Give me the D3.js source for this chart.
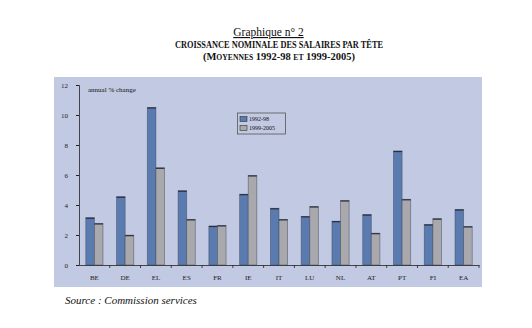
<!DOCTYPE html>
<html><head><meta charset="utf-8">
<script src="https://cdn.jsdelivr.net/npm/d3@7"></script>
<style>body{margin:0;background:#fff}svg{display:block}</style>
</head><body><svg id="c" width="532" height="328"></svg>
<script>
const categories = ["BE","DE","EL","ES","FR","IE","IT","LU","NL","AT","PT","FI","EA"];
const series = ["1992-98","1999-2005"];
const v1992 = [3.15,4.55,10.5,4.95,2.6,4.72,3.78,3.24,2.92,3.36,7.6,2.7,3.7];
const v1999 = [2.77,1.99,6.48,3.04,2.64,5.97,3.04,3.9,4.3,2.12,4.38,3.09,2.57];
const yTicks = [0,2,4,6,8,10,12];
const colors = ["#5a7bb0","#a9a9ad"];

const svg = d3.select("#c");
const serif = "'Liberation Serif','Times New Roman',serif";

// titles
svg.append("text").attr("x",268.5).attr("y",36).attr("text-anchor","middle")
  .style("font-family",serif).style("font-size","11.5px").attr("fill","#111")
  .style("text-decoration","underline").text("Graphique n° 2");
svg.append("text").attr("x",279).attr("y",48).attr("text-anchor","middle")
  .style("font-family",serif).style("font-size","9.5px").style("font-weight","bold").attr("fill","#111")
  .attr("textLength",208).attr("lengthAdjust","spacingAndGlyphs")
  .text("CROISSANCE NOMINALE DES SALAIRES PAR TÊTE");
svg.append("text").attr("x",279).attr("y",60).attr("text-anchor","middle")
  .style("font-family",serif).style("font-size","11px").style("font-weight","bold").attr("fill","#111")
  .style("font-variant","small-caps")
  .attr("textLength",152).attr("lengthAdjust","spacingAndGlyphs")
  .text("(Moyennes 1992-98 et 1999-2005)");

// plot background
svg.append("rect").attr("x",54).attr("y",77).attr("width",428).attr("height",210).attr("fill","#c2c9e2");

const x = d3.scaleBand().domain(categories).range([79,479]).paddingInner(0).paddingOuter(0);
const xs = d3.scaleBand().domain(series).range([0,x.bandwidth()]).paddingInner(0).paddingOuter(0.79);
const y = d3.scaleLinear().domain([0,12]).range([265,85]);

const data = [v1992, v1999];
series.forEach((s,si)=>{
  svg.append("g").selectAll("rect").data(categories).join("rect")
    .attr("x",d=>x(d)+xs(s)).attr("y",(d,i)=>y(data[si][i]))
    .attr("width",xs.bandwidth()).attr("height",(d,i)=>y(0)-y(data[si][i]))
    .attr("fill",colors[si]).attr("stroke","#3a3f4f").attr("stroke-opacity",0.55).attr("stroke-width",0.8);
  svg.append("g").selectAll("line").data(categories).join("line")
    .attr("x1",d=>x(d)+xs(s)).attr("x2",d=>x(d)+xs(s)+xs.bandwidth())
    .attr("y1",(d,i)=>y(data[si][i])+0.5).attr("y2",(d,i)=>y(data[si][i])+0.5)
    .attr("stroke","#2a2f3f").attr("stroke-width",1.2);
});

// y axis
const ya = svg.append("g").attr("transform","translate(79,0)")
  .call(d3.axisLeft(y).tickValues(yTicks).tickSize(3).tickPadding(8).tickFormat(d3.format("d")));
ya.select(".domain").attr("stroke","#222").attr("stroke-width",0.8);
ya.selectAll(".tick line").attr("stroke","#222");
ya.selectAll("text").style("font-family",serif).style("font-size","7px").attr("fill","#222");

// x axis
const xa = svg.append("g").attr("transform","translate(0,265)")
  .call(d3.axisBottom(x).tickSize(0).tickPadding(10));
xa.select(".domain").attr("stroke","#222").attr("stroke-width",0.8);
xa.selectAll("text").style("font-family",serif).style("font-size","7px").attr("fill","#222");
svg.append("g").selectAll("line").data(categories.slice(1).concat(["end"])).join("line")
  .attr("x1",(d,i)=> i<categories.length-1 ? x(d) : 479).attr("x2",(d,i)=> i<categories.length-1 ? x(d) : 479)
  .attr("y1",265).attr("y2",268).attr("stroke","#222").attr("stroke-width",0.8);

svg.append("text").attr("x",88).attr("y",92).style("font-family",serif).style("font-size","7px")
  .attr("fill","#111").text("annual % change");

// legend
const lg = svg.append("g");
lg.append("rect").attr("x",237.5).attr("y",113).attr("width",48).attr("height",21)
  .attr("fill","none").attr("stroke","#555").attr("stroke-width",0.8);
series.forEach((s,i)=>{
  lg.append("rect").attr("x",240).attr("y",116.5+i*9).attr("width",7).attr("height",5)
    .attr("fill",colors[i]).attr("stroke","#333").attr("stroke-width",0.6);
  lg.append("text").attr("x",249).attr("y",121+i*9).style("font-family",serif).style("font-size","6px")
    .attr("fill","#111").text(s);
});

svg.append("text").attr("x",65).attr("y",304).style("font-family",serif).style("font-size","11px")
  .style("font-style","italic").attr("fill","#111").text("Source : Commission services");
</script></body></html>
